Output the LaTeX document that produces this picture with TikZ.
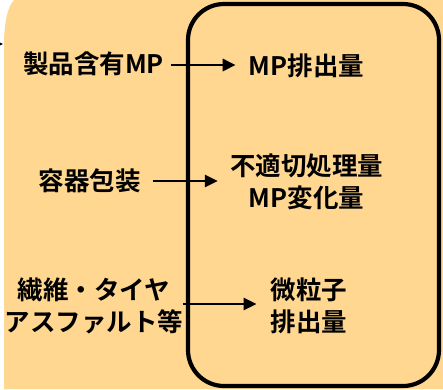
\documentclass[tikz,border=0pt]{standalone}
\usepackage{fontspec}
\setmainfont{Noto Sans CJK JP Bold}
\usetikzlibrary{arrows.meta}
\definecolor{bgorange}{RGB}{255,215,145}
\tikzset{
  lbl/.style={inner sep=0pt, align=center, font=\fontsize{25.5}{32}\selectfont},
  arr/.style={line width=2.8pt, -{Triangle[length=13pt,width=12pt]}},
}
\begin{document}
\begin{tikzpicture}[x=1pt,y=-1pt]
\useasboundingbox (0,0) rectangle (443,389);
\fill[bgorange] (4,389) -- (4,45) .. controls (4,22) and (8,6) .. (14,0) -- (443,0) -- (443,389) -- cycle;
\draw[line width=4.2pt, rounded corners=36pt] (188,4) rectangle (439,386);
\coordinate (inL) at (-14,44);
\coordinate (inR) at (3,44);
\draw[arr] (inL) -- (inR);
\node[lbl] (t1) at (93.5,64) {製品含有MP};
\node[lbl] (o1) at (306.5,66) {MP排出量};
\node[lbl] (t2) at (89.5,181) {容器包装};
\node[lbl] (o2) at (306.5,182) {不適切処理量\\MP変化量};
\node[lbl] (t3) at (94,306) {繊維・タイヤ\\アスファルト等};
\node[lbl] (o3) at (309,306) {微粒子\\排出量};
\draw[arr] ([xshift=7pt,yshift=-1pt]t1.east) -- ([xshift=-13pt,yshift=-1pt]t1.east -| o1.west);
\draw[arr] ([xshift=12pt]t2.east) -- ([xshift=-12pt]t2.east -| o2.west);
\draw[arr] ([xshift=0pt,yshift=2pt]t3.east) -- ([xshift=-14pt,yshift=2pt]t3.east -| o3.west);
\end{tikzpicture}
\end{document}
